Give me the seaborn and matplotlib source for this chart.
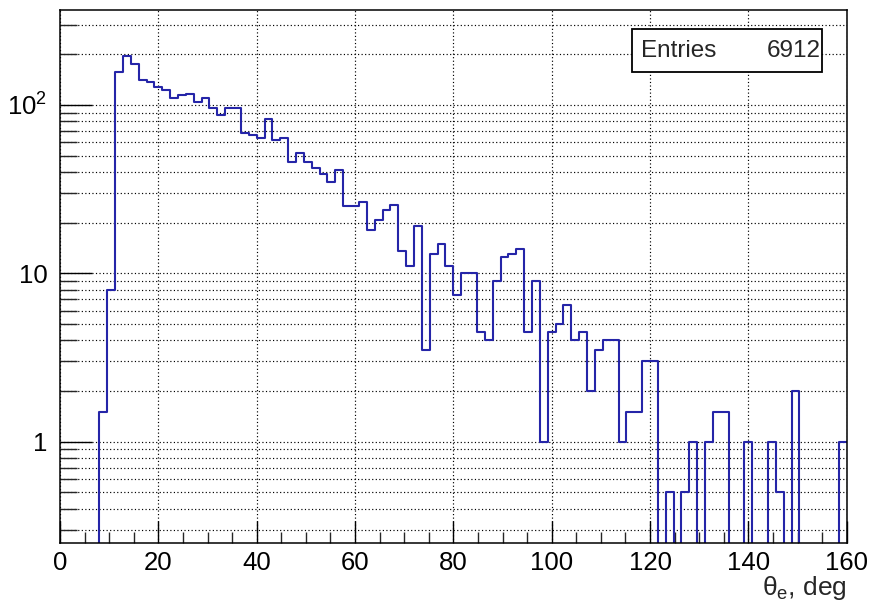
import numpy as np
import pandas as pd
import matplotlib
matplotlib.use("Agg")
import matplotlib.pyplot as plt
import seaborn as sns
from matplotlib.ticker import FixedLocator, FixedFormatter, NullFormatter, MultipleLocator, LogLocator
from matplotlib.patches import Rectangle

# ---- data ----
x_min, x_max, n_bins = 0.0, 160.0, 100
counts = [0, 0, 0, 0, 0, 1.5, 8, 157, 196, 176,
          141, 137, 128, 123, 110, 114, 116, 104, 110, 96,
          87, 96, 96, 68, 66, 64, 83, 62, 64, 46,
          52, 45.6, 42, 39, 35, 41, 25, 25, 26.5, 18,
          20.7, 23.6, 25.6, 13.5, 11, 19, 3.5, 13, 15, 11,
          7.4, 10, 10, 4.5, 4, 9, 12.5, 13, 14, 4.5,
          9, 1, 4.5, 5, 6.5, 4, 4.5, 2, 3.5, 4,
          4, 1, 1.5, 1.5, 3, 3, 0, 0.5, 0, 0.5,
          1, 0, 1, 1.5, 1.5, 0, 0, 1, 0, 0,
          1, 0.5, 0, 2, 0, 0, 0, 0, 0, 1]
x_ticks = [0, 20, 40, 60, 80, 100, 120, 140, 160]
y_ticks = [1, 10, 100]
y_tick_labels = ["1", "10", "10$^2$"]
x_label = "θ$_{\\rm e}$, deg"
stats_label = "Entries"
stats_value = "6912"

bin_width = (x_max - x_min) / n_bins
edges = np.linspace(x_min, x_max, n_bins + 1)
centers = 0.5 * (edges[:-1] + edges[1:])
df = pd.DataFrame({"theta": centers, "w": counts})

sns.set_theme(style="white")
plt.rcParams["font.family"] = ["Liberation Sans", "DejaVu Sans"]
plt.rcParams["mathtext.fontset"] = "custom"
plt.rcParams["mathtext.rm"] = "Liberation Sans"
plt.rcParams["mathtext.default"] = "regular"

fig = plt.figure(figsize=(8.73, 6.03), dpi=100)
ax = fig.add_axes([60 / 873, 1 - 543 / 603, 786.7 / 873, 533 / 603])

sns.histplot(data=df, x="theta", weights="w", binwidth=bin_width,
             binrange=(x_min, x_max), element="step",
             fill=False, color="#2525a8", linewidth=1.5, ax=ax)
ax.set_yscale("log")
ax.set_xlim(x_min, x_max)
ax.set_ylim(0.25, 366)

# ticks
ax.xaxis.set_major_locator(FixedLocator(x_ticks))
ax.xaxis.set_major_formatter(FixedFormatter([str(t) for t in x_ticks]))
ax.xaxis.set_minor_locator(MultipleLocator(5))
ax.yaxis.set_major_locator(FixedLocator(y_ticks))
ax.yaxis.set_major_formatter(FixedFormatter(y_tick_labels))
ax.yaxis.set_minor_locator(LogLocator(base=10, subs=np.arange(2, 10)))
ax.yaxis.set_minor_formatter(NullFormatter())

ax.tick_params(axis="x", which="major", direction="in", length=16, width=1.0,
               pad=6, labelsize=18.5, bottom=True, top=False, colors="black")
ax.tick_params(axis="x", which="minor", direction="in", length=8, width=1.0,
               bottom=True, top=False)
ax.tick_params(axis="y", which="major", direction="in", length=23, width=1.0,
               pad=9, labelsize=18.5, left=True, right=False, colors="black")
ax.tick_params(axis="y", which="minor", direction="in", length=12, width=1.0,
               left=True, right=False)

# grid
grid_kw = dict(color="black", linestyle=(0, (1, 2)), linewidth=0.85)
ax.grid(True, which="major", axis="x", **grid_kw)
ax.grid(True, which="both", axis="y", **grid_kw)
ax.set_axisbelow(True)

for s in ax.spines.values():
    s.set_visible(True)
    s.set_color("black")
    s.set_linewidth(1.1)

ax.set_ylabel("")
ax.set_xlabel(x_label, loc="right", fontsize=19)
ax.xaxis.set_label_coords(1.0, -0.058)
ax.xaxis.label.set_verticalalignment("top")

# stats box
ax.add_patch(Rectangle((0.7267, 0.8842), 0.9682 - 0.7267, 0.9638 - 0.8842,
                       transform=ax.transAxes, facecolor="white",
                       edgecolor="black", linewidth=1.3, zorder=5))
ax.text(0.7381, 0.9225, stats_label, transform=ax.transAxes, ha="left",
        va="center", fontsize=17.5, zorder=6)
ax.text(0.9669, 0.9225, stats_value, transform=ax.transAxes, ha="right",
        va="center", fontsize=17.5, zorder=6)

fig.savefig("out.png", dpi=100)
